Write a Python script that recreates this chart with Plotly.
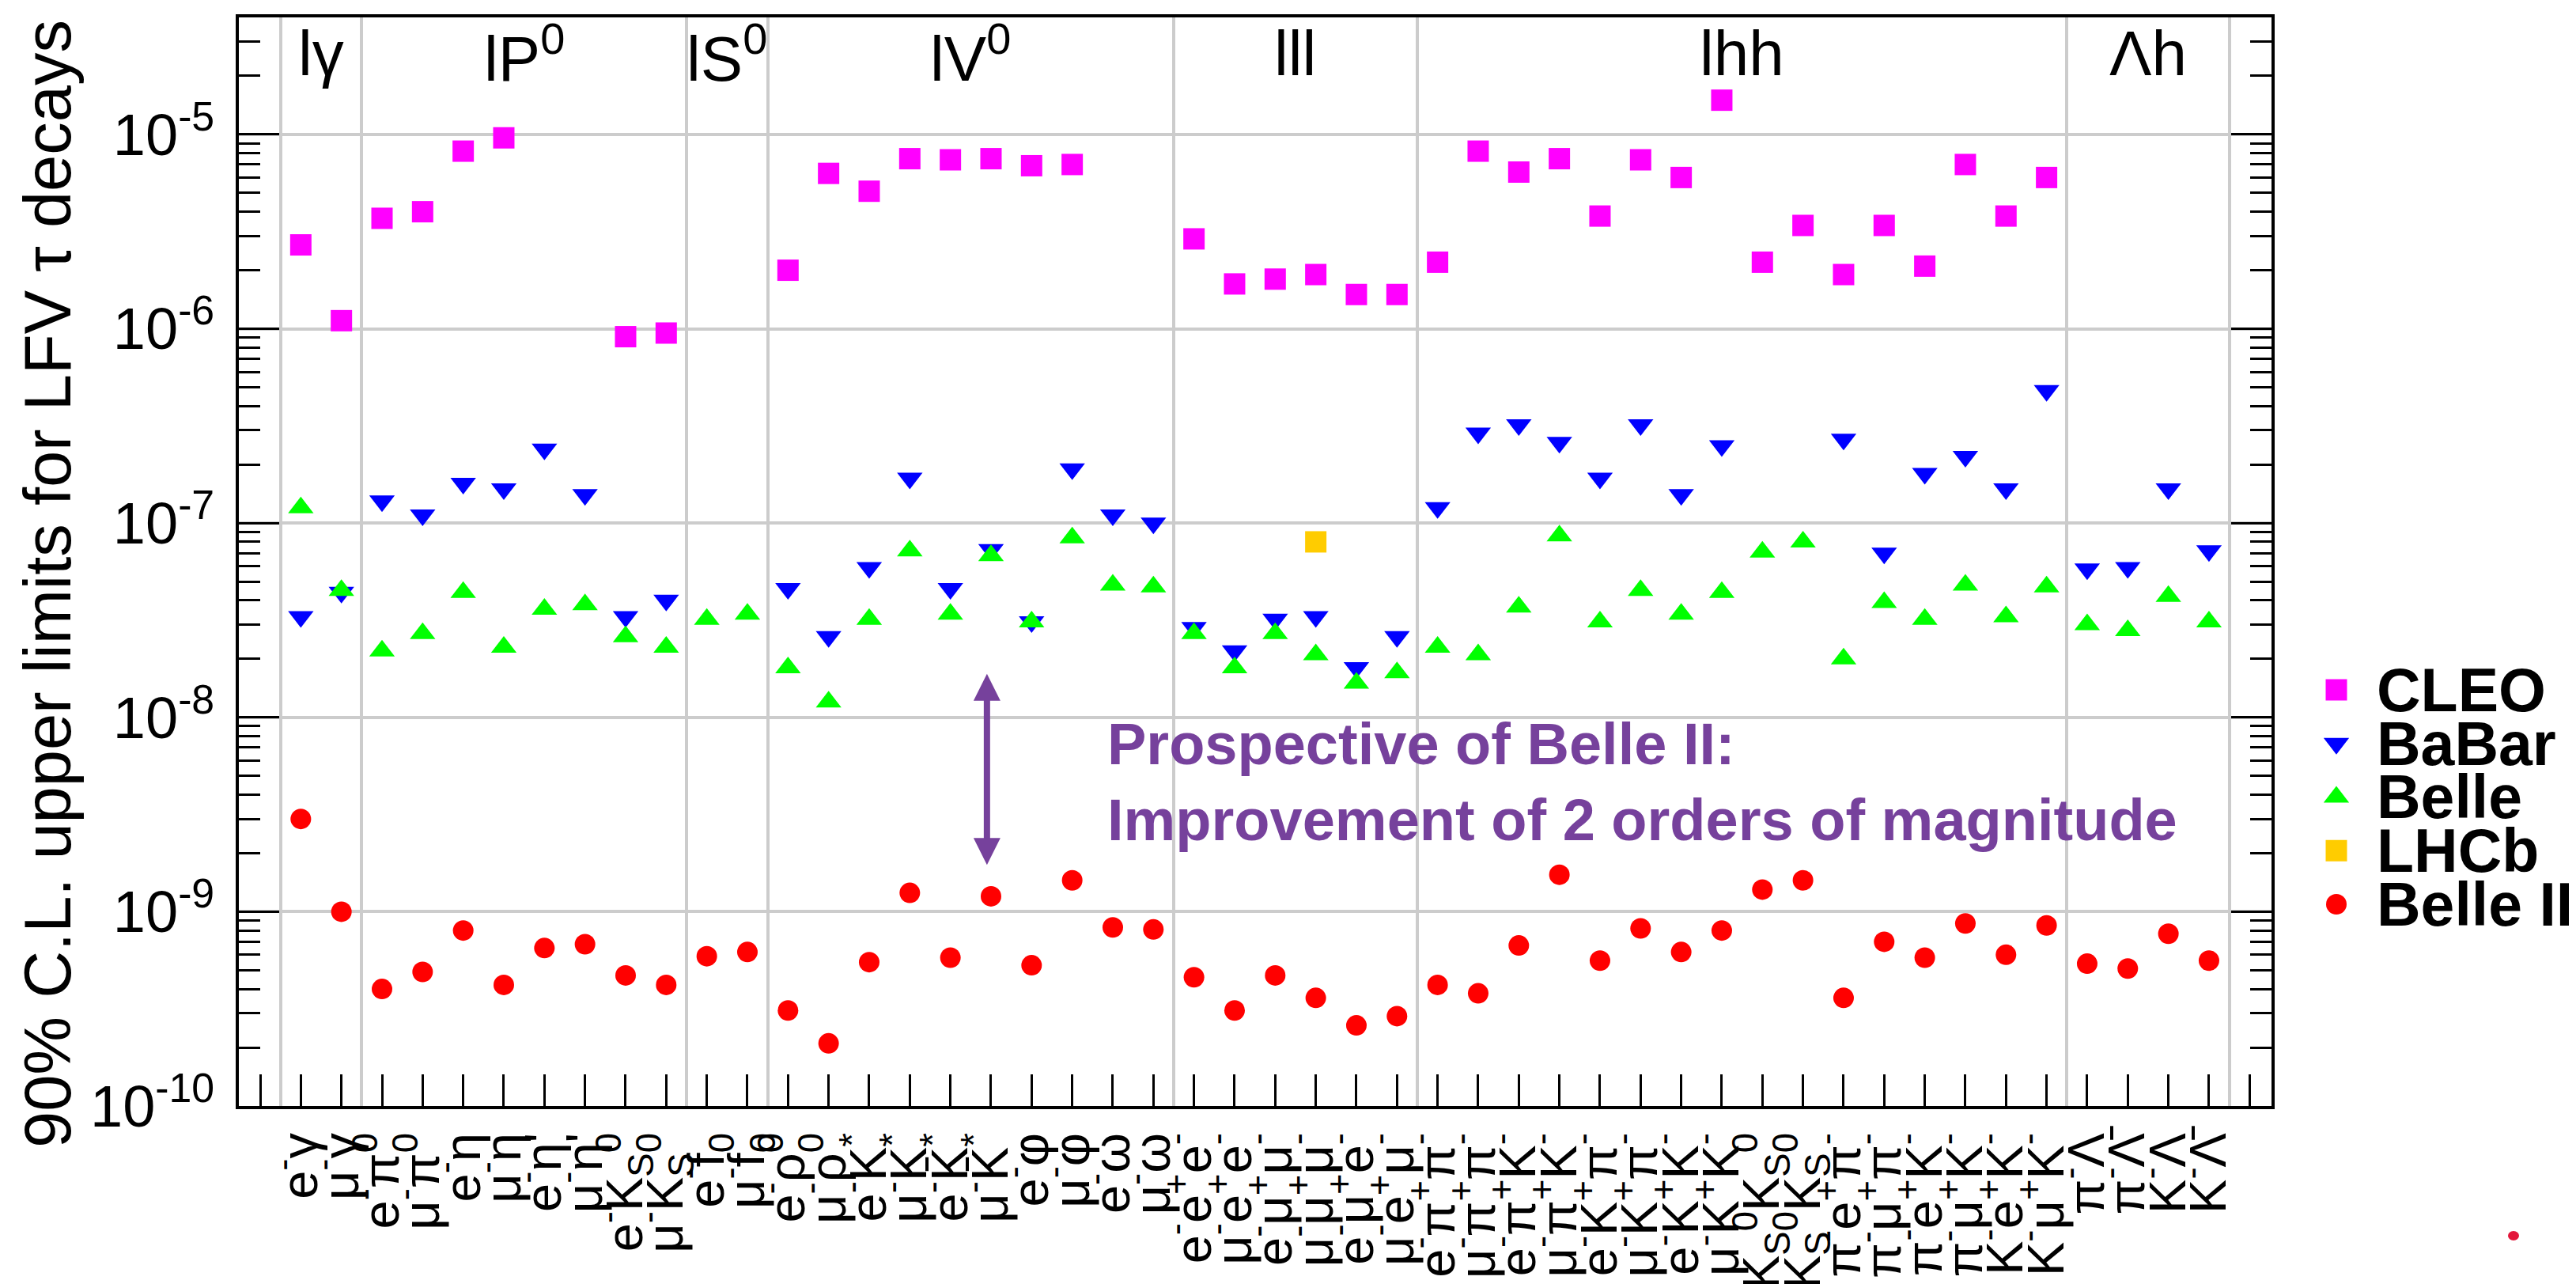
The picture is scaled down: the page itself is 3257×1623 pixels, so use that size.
import math
import plotly.graph_objects as go

# ---------------- data ----------------
decays = [
    "e<sup>-</sup>γ", "μ<sup>-</sup>γ",
    "e<sup>-</sup>π<sup>0</sup>", "μ<sup>-</sup>π<sup>0</sup>", "e<sup>-</sup>η", "μ<sup>-</sup>η",
    "e<sup>-</sup>η'", "μ<sup>-</sup>η'", "e<sup>-</sup>K<sub>S</sub><sup>0</sup>", "μ<sup>-</sup>K<sub>S</sub><sup>0</sup>",
    "e<sup>-</sup>f<sub>0</sub>", "μ<sup>-</sup>f<sub>0</sub>",
    "e<sup>-</sup>ρ<sup>0</sup>", "μ<sup>-</sup>ρ<sup>0</sup>", "e<sup>-</sup>K<sup>*</sup>", "μ<sup>-</sup>K<sup>*</sup>",
    "e<sup>-</sup>K̄<sup>*</sup>", "μ<sup>-</sup>K̄<sup>*</sup>", "e<sup>-</sup>φ", "μ<sup>-</sup>φ",
    "e<sup>-</sup>ω", "μ<sup>-</sup>ω",
    "e<sup>-</sup>e<sup>+</sup>e<sup>-</sup>", "μ<sup>-</sup>e<sup>+</sup>e<sup>-</sup>",
    "e<sup>-</sup>μ<sup>+</sup>μ<sup>-</sup>", "μ<sup>-</sup>μ<sup>+</sup>μ<sup>-</sup>",
    "e<sup>-</sup>μ<sup>+</sup>e<sup>-</sup>", "μ<sup>-</sup>e<sup>+</sup>μ<sup>-</sup>",
    "e<sup>-</sup>π<sup>+</sup>π<sup>-</sup>", "μ<sup>-</sup>π<sup>+</sup>π<sup>-</sup>",
    "e<sup>-</sup>π<sup>+</sup>K<sup>-</sup>", "μ<sup>-</sup>π<sup>+</sup>K<sup>-</sup>",
    "e<sup>-</sup>K<sup>+</sup>π<sup>-</sup>", "μ<sup>-</sup>K<sup>+</sup>π<sup>-</sup>",
    "e<sup>-</sup>K<sup>+</sup>K<sup>-</sup>", "μ<sup>-</sup>K<sup>+</sup>K<sup>-</sup>",
    "e<sup>-</sup>K<sub>S</sub><sup>0</sup>K<sub>S</sub><sup>0</sup>", "μ<sup>-</sup>K<sub>S</sub><sup>0</sup>K<sub>S</sub><sup>0</sup>",
    "π<sup>-</sup>e<sup>+</sup>π<sup>-</sup>", "π<sup>-</sup>μ<sup>+</sup>π<sup>-</sup>",
    "π<sup>-</sup>e<sup>+</sup>K<sup>-</sup>", "π<sup>-</sup>μ<sup>+</sup>K<sup>-</sup>",
    "K<sup>-</sup>e<sup>+</sup>K<sup>-</sup>", "K<sup>-</sup>μ<sup>+</sup>K<sup>-</sup>",
    "π<sup>-</sup>Λ", "π<sup>-</sup>Λ̄", "K<sup>-</sup>Λ", "K<sup>-</sup>Λ̄",
]

cleo = [2.7e-6, 1.1e-6, 3.7e-6, 4.0e-6, 8.2e-6, 9.6e-6, None, None, 9.1e-7, 9.5e-7,
        None, None,
        2.0e-6, 6.3e-6, 5.1e-6, 7.5e-6, 7.4e-6, 7.5e-6, 6.9e-6, 7.0e-6, None, None,
        2.9e-6, 1.7e-6, 1.8e-6, 1.9e-6, 1.5e-6, 1.5e-6,
        2.2e-6, 8.2e-6, 6.4e-6, 7.5e-6, 3.8e-6, 7.4e-6, 6.0e-6, 1.5e-5,
        2.2e-6, 3.4e-6, 1.9e-6, 3.4e-6, 2.1e-6, 7.0e-6, 3.8e-6, 6.0e-6,
        None, None, None, None]

babar = [3.3e-8, 4.4e-8, 1.3e-7, 1.1e-7, 1.6e-7, 1.5e-7, 2.4e-7, 1.4e-7, 3.3e-8, 4.0e-8,
         None, None,
         4.6e-8, 2.6e-8, 5.9e-8, 1.7e-7, 4.6e-8, 7.3e-8, 3.1e-8, 1.9e-7, 1.1e-7, 1.0e-7,
         2.9e-8, 2.2e-8, 3.2e-8, 3.3e-8, 1.8e-8, 2.6e-8,
         1.2e-7, 2.9e-7, 3.2e-7, 2.6e-7, 1.7e-7, 3.2e-7, 1.4e-7, 2.5e-7,
         None, None, 2.7e-7, 7.0e-8, 1.8e-7, 2.2e-7, 1.5e-7, 4.8e-7,
         5.8e-8, 5.9e-8, 1.5e-7, 7.2e-8]

belle = [1.2e-7, 4.5e-8, 2.2e-8, 2.7e-8, 4.4e-8, 2.3e-8, 3.6e-8, 3.8e-8, 2.6e-8, 2.3e-8,
         3.2e-8, 3.4e-8,
         1.8e-8, 1.2e-8, 3.2e-8, 7.2e-8, 3.4e-8, 6.8e-8, 3.1e-8, 8.4e-8, 4.8e-8, 4.7e-8,
         2.7e-8, 1.8e-8, 2.7e-8, 2.1e-8, 1.5e-8, 1.7e-8,
         2.3e-8, 2.1e-8, 3.7e-8, 8.6e-8, 3.1e-8, 4.5e-8, 3.4e-8, 4.4e-8,
         7.1e-8, 8.0e-8, 2.0e-8, 3.9e-8, 3.2e-8, 4.8e-8, 3.3e-8, 4.7e-8,
         3.0e-8, 2.8e-8, 4.2e-8, 3.1e-8]

lhcb = [None] * 25 + [8.0e-8] + [None] * 22

belle2 = [3.0e-9, 1.0e-9, 4.0e-10, 4.9e-10, 8.0e-10, 4.2e-10, 6.5e-10, 6.8e-10, 4.7e-10, 4.2e-10,
          5.9e-10, 6.2e-10,
          3.1e-10, 2.1e-10, 5.5e-10, 1.25e-9, 5.8e-10, 1.2e-9, 5.3e-10, 1.45e-9, 8.3e-10, 8.1e-10,
          4.6e-10, 3.1e-10, 4.7e-10, 3.6e-10, 2.6e-10, 2.9e-10,
          4.2e-10, 3.8e-10, 6.7e-10, 1.55e-9, 5.6e-10, 8.2e-10, 6.2e-10, 8.0e-10,
          1.3e-9, 1.45e-9, 3.6e-10, 7.0e-10, 5.8e-10, 8.7e-10, 6.0e-10, 8.5e-10,
          5.4e-10, 5.1e-10, 7.7e-10, 5.6e-10]

group_names = ["lγ", "lP<sup>0</sup>", "lS<sup>0</sup>", "lV<sup>0</sup>", "lll", "lhh", "Λh"]
group_edges = [0.5, 2.5, 10.5, 12.5, 22.5, 28.5, 44.5, 48.5]

y_decades = [-10, -9, -8, -7, -6, -5]
y_tick_text = ["10<sup>-10</sup>", "10<sup>-9</sup>", "10<sup>-8</sup>",
               "10<sup>-7</sup>", "10<sup>-6</sup>", "10<sup>-5</sup>"]

series_names = ["CLEO", "BaBar", "Belle", "LHCb", "Belle II"]
series_values = [cleo, babar, belle, lhcb, belle2]
series_symbols = ["square", "triangle-down", "triangle-up", "square", "circle"]
series_colors = ["#ff00ff", "#0000ff", "#00ff00", "#ffcc00", "#ff0000"]
series_sizes = [27, 28, 28, 27, 26]

arrow_x = 17.9
arrow_span = [1.74e-9, 1.7e-8]
note_text = "Prospective of Belle II:<br>Improvement of 2 orders of magnitude"

for v in series_values:
    assert len(v) == len(decays)

# ---------------- layout geometry ----------------
W, H = 3257, 1623
ML, MT, MB = 302, 22, 225
PLOT_RIGHT = 2872
PW = W - ML
PH = H - MT - MB
x_dom_end = (PLOT_RIGHT - ML) / PW

FONT = "Liberation Sans, Arial, Helvetica, sans-serif"
PURPLE = "#76419c"

x_pos = list(range(1, len(decays) + 1))
n_ticks = len(decays) + 2

y_major = [10.0 ** d for d in y_decades]
y_minor = [k * 10.0 ** d for d in y_decades for k in range(2, 10) if k * 10.0 ** d <= 4e-5]

fig = go.Figure()

for name, vals, sym, col, sz in zip(series_names, series_values, series_symbols,
                                    series_colors, series_sizes):
    fig.add_trace(go.Scatter(
        x=x_pos, y=vals, mode="markers", name=name, showlegend=False,
        marker=dict(symbol=sym, color=col, size=sz, line=dict(width=0)),
        xaxis="x", yaxis="y"))

# legend drawn on a hidden helper axis pair at the right
leg_rows = list(range(len(series_names) - 1, -1, -1))
for row, name, sym, col, sz in zip(leg_rows, series_names, series_symbols,
                                   series_colors, series_sizes):
    fig.add_trace(go.Scatter(
        x=[0.213], y=[row], mode="markers", showlegend=False, hoverinfo="skip",
        marker=dict(symbol=sym, color=col, size=sz, line=dict(width=0)),
        xaxis="x2", yaxis="y2"))

annotations = []
for row, name in zip(leg_rows, series_names):
    annotations.append(dict(
        x=0.34, y=row, xref="x2", yref="y2", text=name, showarrow=False,
        xanchor="left", yanchor="middle",
        font=dict(family=FONT, size=77, color="black", weight="bold")))

# group labels
for i, g in enumerate(group_names):
    cx = 0.5 * (group_edges[i] + group_edges[i + 1])
    annotations.append(dict(
        x=cx, y=(H - MB - 68) / PH, xref="x", yref="paper", text=g, showarrow=False,
        xanchor="center", yanchor="middle",
        font=dict(family=FONT, size=80, color="black")))

# y-axis title
annotations.append(dict(
    x=(60 - ML) / PW, y=(H - MB - 738) / PH, xref="paper", yref="paper",
    text="90% C.L. upper limits for LFV τ decays", showarrow=False, textangle=-90,
    xanchor="center", yanchor="middle",
    font=dict(family=FONT, size=83, color="black")))

# Belle II prospect note
annotations.append(dict(
    x=20.83, y=-8.3313, xref="x", yref="y", text=note_text, showarrow=False,
    xanchor="left", yanchor="middle", align="left",
    font=dict(family=FONT, size=74, color=PURPLE, weight="bold")))

# double-headed arrow
annotations.append(dict(
    x=arrow_x, y=math.log10(arrow_span[0]), ax=arrow_x, ay=math.log10(arrow_span[1]),
    xref="x", yref="y", axref="x", ayref="y", text="", showarrow=True,
    arrowhead=2, startarrowhead=2, arrowside="end+start", arrowsize=0.85,
    startarrowsize=0.85, arrowwidth=8, arrowcolor=PURPLE, standoff=0, startstandoff=0))

shapes = [dict(type="circle", xref="paper", yref="paper",
               x0=(3171 - ML) / PW, x1=(3185 - ML) / PW,
               y0=(H - MB - 1568) / PH, y1=(H - MB - 1556) / PH,
               fillcolor="#e3173b", line=dict(width=0))]

fig.update_layout(
    width=W, height=H, autosize=False,
    margin=dict(l=ML, r=0, t=MT, b=MB, pad=0),
    paper_bgcolor="white", plot_bgcolor="white",
    showlegend=False,
    annotations=annotations, shapes=shapes,
    xaxis=dict(
        domain=[0, x_dom_end], range=[-0.526, 49.54], anchor="y",
        tickmode="array", tickvals=list(range(n_ticks)),
        ticktext=[""] + decays + [""], tickangle=-90,
        ticks="inside", ticklen=40, tickwidth=3, tickcolor="black",
        showline=True, linecolor="black", linewidth=4, mirror=True,
        showgrid=False, zeroline=False, automargin=False,
        tickfont=dict(family=FONT, size=65, color="black"), ticklabelstandoff=4,
        minor=dict(tickmode="array", tickvals=group_edges, showgrid=True,
                   gridcolor="#cccccc", gridwidth=4, ticks=""),
    ),
    yaxis=dict(
        type="log", range=[-10, math.log10(4e-5)], domain=[0, 1], anchor="x",
        tickmode="array", tickvals=y_major, ticktext=y_tick_text,
        ticks="inside", ticklen=51, tickwidth=3, tickcolor="black",
        showline=True, linecolor="black", linewidth=4, mirror="ticks",
        showgrid=True, gridcolor="#cccccc", gridwidth=4, zeroline=False, automargin=False,
        tickfont=dict(family=FONT, size=74, color="black"), ticklabelstandoff=12,
        minor=dict(tickmode="array", tickvals=y_minor, ticks="inside", ticklen=27,
                   tickwidth=3, tickcolor="black", showgrid=False),
    ),
    xaxis2=dict(domain=[x_dom_end, 1], range=[0, 1], anchor="y2", visible=False),
    yaxis2=dict(domain=[0, 1], range=[-3.764, 16.546], anchor="x2", visible=False),
)

fig.write_html("out.html")
